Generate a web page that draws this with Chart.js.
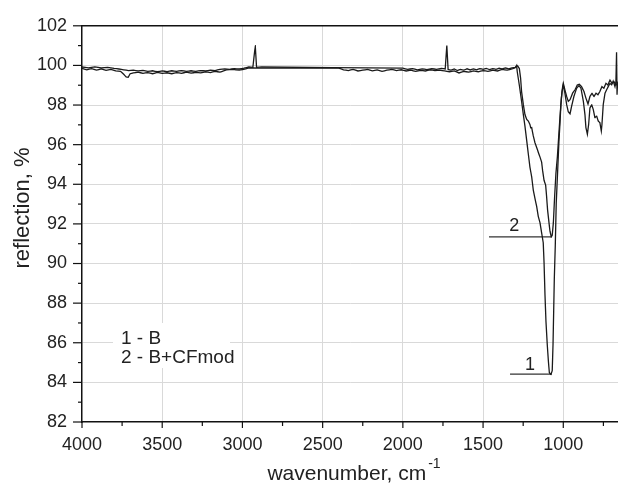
<!DOCTYPE html>
<html>
<head>
<meta charset="utf-8">
<script src="https://cdn.jsdelivr.net/npm/chart.js@4.4.0/dist/chart.umd.min.js"></script>
<style>
  html, body { margin: 0; padding: 0; background: #fff; }
  #wrap { width: 618px; height: 484px; }
</style>
</head>
<body>
<div id="wrap"><canvas id="myChart" width="618" height="484"></canvas></div>
<script>
'use strict';
// spectrum 1 - B
const wn1 = [
  4000, 3970, 3940, 3910, 3880, 3850, 3820, 3790, 3760, 3740, 3725, 3712, 3700, 3680, 3650, 3620,
  3590, 3560, 3530, 3500, 3470, 3440, 3410, 3380, 3350, 3320, 3290, 3260, 3230, 3200, 3170, 3140,
  3118, 3100, 3060, 3020, 2980, 2960, 2900, 2400, 2370, 2340, 2310, 2280, 2250, 2220, 2190, 2160,
  2130, 2100, 2070, 2040, 2010, 1980, 1950, 1920, 1890, 1860, 1830, 1800, 1770, 1740, 1710, 1680,
  1650, 1620, 1590, 1560, 1530, 1500, 1470, 1440, 1410, 1380, 1350, 1320, 1300, 1291,
  1287, 1274, 1260, 1249, 1239, 1228, 1218, 1208, 1197, 1187, 1177, 1166, 1156, 1145, 1135, 1125,
  1120, 1114, 1108, 1100, 1093, 1087, 1077, 1069, 1064, 1060, 1056, 1050, 1044, 1035, 1027, 1021,
  1015, 1008, 1000, 990, 979, 969, 958, 948, 934, 917, 902, 890, 875, 865, 859, 850,
  842, 834, 823, 813, 803, 792, 782, 772, 763, 759, 751, 740, 730, 720, 709, 699,
  689, 678, 672, 668, 665, 662, 659
];
const refl1 = [
  99.85, 99.78, 99.84, 99.76, 99.82, 99.75, 99.8, 99.72, 99.7, 99.55, 99.42, 99.4, 99.58, 99.62, 99.66, 99.6,
  99.64, 99.58, 99.65, 99.6, 99.63, 99.58, 99.64, 99.6, 99.66, 99.61, 99.65, 99.62, 99.68, 99.64, 99.7, 99.66,
  99.72, 99.78, 99.8, 99.76, 99.82, 99.88, 99.86, 99.86, 99.78, 99.74, 99.8, 99.72, 99.76, 99.8, 99.73, 99.77,
  99.7, 99.76, 99.8, 99.74, 99.78, 99.72, 99.76, 99.7, 99.75, 99.72, 99.78, 99.74, 99.76, 99.72, 99.68, 99.72,
  99.62, 99.7, 99.66, 99.72, 99.68, 99.74, 99.7, 99.76, 99.72, 99.8, 99.76, 99.82, 99.88, 100.0,
  99.68, 99.0, 98.19, 97.52, 96.94, 96.2, 95.53, 94.87, 94.37, 93.71, 93.3, 92.88, 92.38, 92.05, 91.55, 91.05,
  90.06, 88.4, 87.07, 85.91, 85.08, 84.5, 84.39, 84.59, 85.91, 87.57, 89.23, 90.89, 93.04, 94.7, 96.2, 97.03,
  98.02, 98.68, 99.01, 98.6, 98.02, 97.66, 97.56, 97.94, 98.43, 98.85, 98.98, 98.85, 98.19, 97.52, 96.86, 96.53,
  97.02, 97.85, 98.02, 97.77, 97.36, 97.44, 97.19, 97.11, 96.69, 97.02, 98.02, 98.6, 98.77, 98.93, 99.1, 99.01,
  99.21, 98.93, 99.18, 100.67, 98.52, 99.1, 99.01
];
// spectrum 2 - B+CFmod
const wn2 = [
  4000, 3960, 3920, 3880, 3840, 3800, 3770, 3740, 3710, 3680, 3650, 3620, 3590, 3560, 3530, 3500,
  3470, 3440, 3410, 3380, 3350, 3320, 3290, 3260, 3230, 3200, 3170, 3140, 3110, 3080, 3050, 3020,
  2990, 2960, 2935, 2920, 2912, 2880, 2000, 1970, 1940, 1910, 1880, 1850, 1820, 1790, 1760, 1736,
  1726, 1718, 1700, 1680, 1660, 1640, 1620, 1600, 1580, 1560, 1540, 1520, 1500, 1480, 1460, 1440,
  1420, 1400, 1380, 1360, 1340, 1320, 1300, 1285,
  1274, 1266, 1260, 1249, 1239, 1228, 1218, 1208, 1203, 1197, 1187, 1177, 1166, 1156, 1145, 1135,
  1129, 1120, 1110, 1104, 1098, 1089, 1083, 1075, 1069, 1062, 1054, 1046, 1037, 1029, 1021, 1012,
  1004, 1000, 990, 979, 969, 958, 942, 927, 913, 900, 886, 871, 859, 846, 834, 821,
  809, 796, 784, 772, 759, 747, 734, 722, 709, 697, 684, 672, 659
];
const refl2 = [
  99.92, 99.88, 99.93, 99.87, 99.9, 99.85, 99.82, 99.78, 99.74, 99.76, 99.72, 99.75, 99.7, 99.73, 99.68, 99.72,
  99.69, 99.73, 99.7, 99.74, 99.7, 99.73, 99.7, 99.74, 99.72, 99.76, 99.74, 99.8, 99.82, 99.8, 99.84, 99.82,
  99.86, 99.92, 99.9, 101.0, 99.9, 99.92, 99.86, 99.8, 99.84, 99.78, 99.83, 99.79, 99.84, 99.8, 99.85, 99.82,
  101.0, 99.8, 99.76, 99.82, 99.74, 99.8, 99.76, 99.83, 99.77, 99.82, 99.78, 99.84, 99.8, 99.85, 99.79, 99.84,
  99.8, 99.86, 99.82, 99.87, 99.83, 99.88, 99.9, 99.98,
  99.84, 99.35, 98.68, 98.02, 97.52, 97.27, 97.19, 97.02, 96.85, 96.86, 96.44, 96.11, 95.86, 95.62, 95.37, 95.12,
  94.7, 94.2, 93.96, 93.38, 92.71, 92.05, 91.63, 91.35, 91.42, 92.05, 93.38, 94.54, 95.37, 96.36, 97.36, 98.35,
  98.93, 99.1, 98.77, 98.43, 98.19, 98.27, 98.6, 98.77, 99.01, 99.05, 98.93, 98.68, 98.35, 98.05, 98.43, 98.6,
  98.43, 98.6, 98.52, 98.68, 98.93, 98.85, 99.1, 99.01, 99.26, 99.1, 99.18, 99.01, 99.1
];

const xTicks = [4000, 3500, 3000, 2500, 2000, 1500, 1000];
const yTicks = [82, 84, 86, 88, 90, 92, 94, 96, 98, 100, 102];
const legendLines = ['1 - B', '2 - B+CFmod'];
const markText = ['1', '2'];
const markWn = [1207, 1305];
const markRefl = [84.62, 91.65];
const lead1Wn = [1332, 1072];
const lead1Refl = [84.42, 84.42];
const lead2Wn = [1463, 1072];
const lead2Refl = [91.35, 91.35];

const FONT = "'Liberation Sans', Arial, sans-serif";
Chart.defaults.font.family = FONT;

function toPoints(xs, ys) {
  return xs.map((v, i) => ({x: v, y: ys[i]}));
}

function line(ctx, x1, y1, x2, y2) {
  ctx.beginPath();
  ctx.moveTo(x1, y1);
  ctx.lineTo(x2, y2);
  ctx.stroke();
}

const decor = {
  id: 'decor',
  afterDraw(chart) {
    const ctx = chart.ctx;
    const a = chart.chartArea;
    const x = chart.scales.x;
    const y = chart.scales.y;
    ctx.save();
    ctx.strokeStyle = '#111';
    ctx.lineWidth = 1.5;
    line(ctx, a.left, a.top, a.right, a.top);

    // major and minor ticks
    ctx.lineWidth = 1.2;
    for (let v = xTicks[0]; v >= x.min; v -= 250) {
      const px = x.getPixelForValue(v);
      line(ctx, px, a.bottom, px, a.bottom + (xTicks.includes(v) ? 6 : 4));
    }
    for (let v = yTicks[0]; v <= yTicks[yTicks.length - 1]; v++) {
      const py = y.getPixelForValue(v);
      line(ctx, a.left - (yTicks.includes(v) ? 9 : 4), py, a.left, py);
    }

    // legend box
    ctx.fillStyle = '#fff';
    ctx.fillRect(a.left + 31, a.bottom - 99, 117, 45);
    ctx.fillStyle = '#222';
    ctx.font = '19px ' + FONT;
    ctx.textAlign = 'left';
    ctx.textBaseline = 'alphabetic';
    ctx.fillText(legendLines[0], a.left + 39, a.bottom - 78);
    ctx.fillText(legendLines[1], a.left + 39, a.bottom - 59);

    // curve numbers
    ctx.font = '18px ' + FONT;
    ctx.textAlign = 'center';
    for (let i = 0; i < markText.length; i++) {
      ctx.fillText(markText[i], x.getPixelForValue(markWn[i]), y.getPixelForValue(markRefl[i]));
    }

    // x title with superscript
    const t1 = 'wavenumber, cm';
    const t2 = '-1';
    ctx.font = '21px ' + FONT;
    const w1 = ctx.measureText(t1).width;
    ctx.font = '14px ' + FONT;
    const w2 = ctx.measureText(t2).width;
    const start = (a.left + a.right) / 2 + 4 - (w1 + 2 + w2) / 2;
    ctx.textAlign = 'left';
    ctx.font = '21px ' + FONT;
    ctx.fillText(t1, start, 480);
    ctx.font = '14px ' + FONT;
    ctx.fillText(t2, start + w1 + 2, 468);

    // y title
    ctx.translate(28.5, 208);
    ctx.rotate(-Math.PI / 2);
    ctx.textAlign = 'center';
    ctx.font = '22px ' + FONT;
    ctx.fillText('reflection, %', 0, 0);
    ctx.restore();
  }
};

// tiny tension keeps Chart.js off its pixel-column fast path
const lineStyle = {
  borderColor: '#1a1a1a',
  borderWidth: 1.3,
  pointRadius: 0,
  tension: 0.0001,
  fill: false
};

const ctx = document.getElementById('myChart').getContext('2d');
const chart = new Chart(ctx, {
  type: 'line',
  data: {
    datasets: [
      Object.assign({label: '1 - B', data: toPoints(wn1, refl1)}, lineStyle),
      Object.assign({label: '2 - B+CFmod', data: toPoints(wn2, refl2)}, lineStyle),
      Object.assign({label: 'lead1', data: toPoints(lead1Wn, lead1Refl)}, lineStyle, {borderColor: '#333', borderWidth: 1.2}),
      Object.assign({label: 'lead2', data: toPoints(lead2Wn, lead2Refl)}, lineStyle, {borderColor: '#333', borderWidth: 1.2})
    ]
  },
  options: {
    responsive: false,
    animation: false,
    layout: {padding: {top: 20, right: 0, bottom: 0, left: 0}},
    plugins: {legend: {display: false}, tooltip: {enabled: false}},
    scales: {
      x: {
        type: 'linear',
        reverse: true,
        min: 659,
        max: 4000,
        afterBuildTicks(scale) {
          const t = [];
          for (let v = xTicks[0]; v >= 750; v -= 250) t.push({value: v});
          scale.ticks = t;
        },
        afterFit(scale) { scale.height = 62; },
        ticks: {
          autoSkip: false,
          maxRotation: 0,
          padding: 12,
          color: '#222',
          font: {size: 18},
          callback: (v) => xTicks.includes(v) ? String(v) : ''
        },
        grid: {
          drawTicks: false,
          color: (c) => (c.tick && xTicks.includes(c.tick.value) && c.tick.value !== 4000) ? '#d9d9d9' : 'transparent'
        },
        border: {display: true, color: '#111', width: 1.5}
      },
      y: {
        type: 'linear',
        min: 82,
        max: 102,
        afterBuildTicks(scale) {
          const t = [];
          for (let v = 82; v <= 102; v++) t.push({value: v});
          scale.ticks = t;
        },
        afterFit(scale) { scale.width = 82; },
        ticks: {
          autoSkip: false,
          padding: 15,
          color: '#222',
          font: {size: 18},
          callback: (v) => yTicks.includes(v) ? String(v) : ''
        },
        grid: {
          drawTicks: false,
          color: (c) => (c.tick && yTicks.includes(c.tick.value) && c.tick.value !== 82 && c.tick.value !== 102) ? '#d9d9d9' : 'transparent'
        },
        border: {display: true, color: '#111', width: 1.5}
      }
    }
  },
  plugins: [decor]
});
</script>
</body>
</html>
